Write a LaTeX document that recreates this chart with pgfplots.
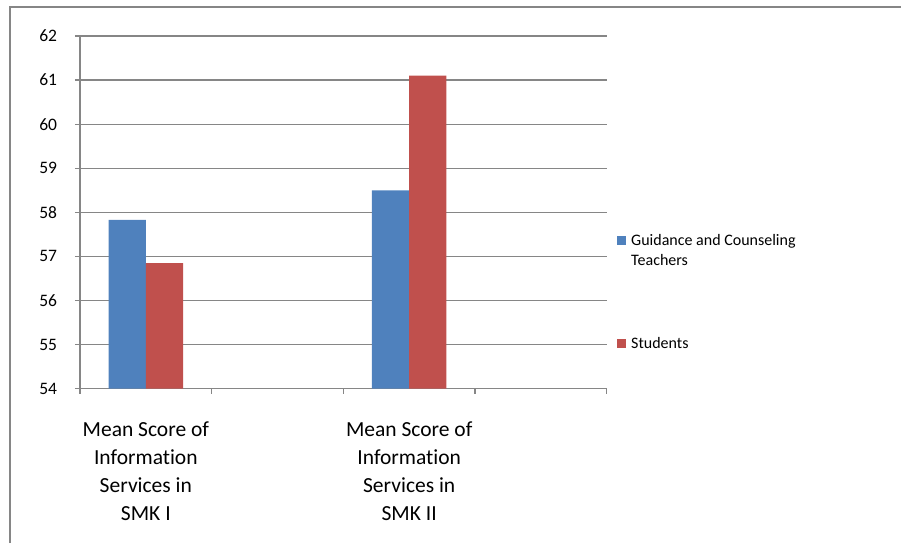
\documentclass[border=0pt]{standalone}
\usepackage{pgfplots}
\pgfplotsset{compat=1.18}
\usepackage{fontspec}
\setmainfont{Carlito}[Ligatures={NoCommon,NoRare,NoDiscretionary}]
\definecolor{exblue}{RGB}{79,129,189}
\definecolor{exred}{RGB}{192,80,77}
\definecolor{exgrid}{RGB}{134,134,134}
\begin{document}
\begin{tikzpicture}[x=1pt,y=1pt]
\useasboundingbox (0,0) rectangle (901,543);
\draw[exgrid,line width=2.5pt] (10,0) -- (10,536) -- (901,536);
\begin{axis}[
  at={(80pt,154.3pt)}, anchor=south west,
  scale only axis, width=526.7pt, height=352.7pt,
  ybar=0pt, bar width=37.3pt,
  xmin=0.5, xmax=4.5, ymin=54, ymax=62,
  ytick={54,55,...,62},
  xtick={1,3},
  xticklabels={{Mean Score of\\Information\\Services in\\SMK I},{Mean Score of\\Information\\Services in\\SMK II}},
  minor xtick={0.5,1.5,2.5,3.5,4.5},
  major x tick style={draw=none},
  axis lines*=left,
  axis line style={exgrid,line width=1.3pt},
  ymajorgrids, grid style={exgrid,line width=1.3pt},
  tick align=outside,
  major tick length=5pt, minor tick length=5pt,
  tick style={exgrid,line width=1.3pt},
  /pgf/number format/assume math mode=true,
  yticklabel style={font=\fontsize{17.5}{21}\selectfont, inner sep=0pt, xshift=-17.7pt},
  xticklabel style={font=\fontsize{21.5}{28}\selectfont, align=center, inner sep=0pt, anchor=north, yshift=-27.5pt},
  legend style={at={(1.0196,0.4443)}, anchor=north west, draw=none, fill=none,
    inner sep=0pt, row sep=87pt, column sep=3pt,
    font=\fontsize{16}{20}\selectfont,
    cells={anchor=base west, inner sep=0pt}},
  legend image code/.code={\fill[#1] (0pt,0.6pt) rectangle (9pt,9.6pt);},
]
\addplot[fill=exblue, draw=none] coordinates {(1,57.83) (3,58.5)};
\addlegendentry{\parbox[t]{220pt}{Guidance and Counseling\\Teachers}}
\addplot[fill=exred, draw=none] coordinates {(1,56.85) (3,61.1)};
\addlegendentry{Students}
\end{axis}
\end{tikzpicture}
\end{document}
